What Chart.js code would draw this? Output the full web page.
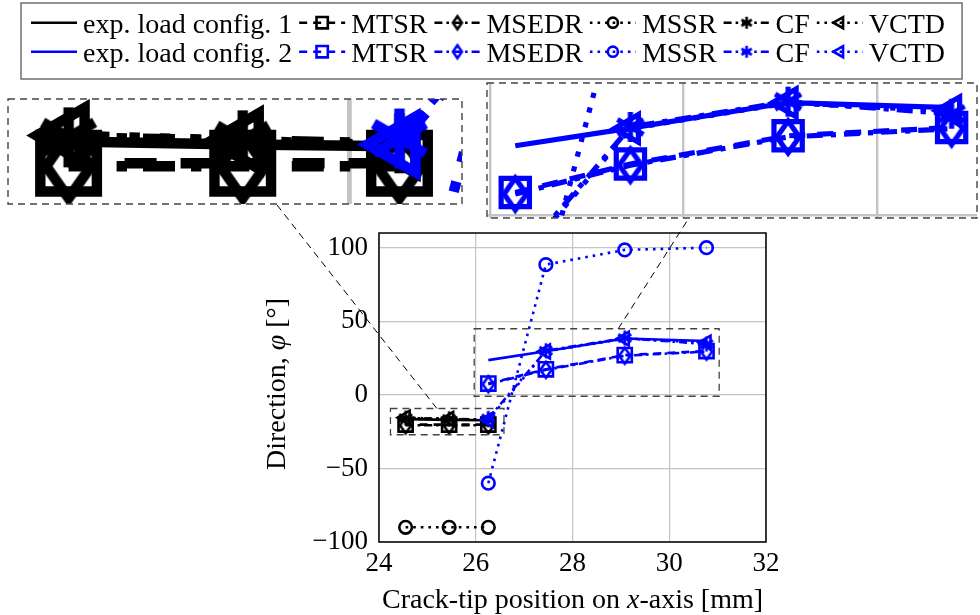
<!DOCTYPE html>
<html>
<head>
<meta charset="utf-8">
<title>Crack direction</title>
<script src="https://cdn.jsdelivr.net/npm/chart.js@4.4.1/dist/chart.umd.min.js"></script>
<style>
  html, body { margin: 0; padding: 0; background: #fff; }
  #wrap { position: relative; width: 980px; height: 615px; overflow: hidden; }
  #wrap canvas { position: absolute; left: 0; top: 0; }
</style>
</head>
<body>
<div id="wrap">
  <canvas id="main" width="980" height="615"></canvas>
</div>
<script>
// crack-tip position on x-axis [mm]
const posConfig1 = [24.55, 25.45, 26.26];
const posConfig2 = [26.26, 27.45, 29.08, 30.77];

// direction [deg], exp. load config. 1
const exp1 = [-16.5, -17.0, -17.3];
const mtsr1 = [-20.2, -20.2, -20.2];
const msedr1 = [-20.7, -20.7, -20.7];
const mssr1 = [-90, -90, -90];
const cf1 = [-15.8, -16.3, -16.8];
const vctd1 = [-15.5, -16.4, -17.2];

// direction [deg], exp. load config. 2
const exp2 = [23.6, 29.6, 38.3, 36.6];
const mtsr2 = [7.7, 17.4, 27.0, 29.8];
const msedr2 = [7.2, 17.0, 26.6, 29.4];
const mssr2 = [-60, 88.5, 98.5, 100];
const cf2 = [-16, 30, 38.6, 34.5];
const vctd2 = [-17, 29.5, 38.2, 35.5];

const methods = ["MTSR", "MSEDR", "MSSR", "CF", "VCTD"];
const xTicks = [24, 26, 28, 30, 32];
const yTicks = [-100, -50, 0, 50, 100];

const configs = [
  { name: "exp. load config. 1", color: "#000000", x: posConfig1, exp: exp1, values: [mtsr1, msedr1, mssr1, cf1, vctd1] },
  { name: "exp. load config. 2", color: "#0000ff", x: posConfig2, exp: exp2, values: [mtsr2, msedr2, mssr2, cf2, vctd2] },
];

// styling
const LW = 2.6;
const GRID = "#c4c4c4";
const FAMILY = "'Liberation Serif', 'Times New Roman', serif";
const markStyle = {
  MTSR:  { pointStyle: "rect",     radius: 10,  rotation: 0,   dash: [8, 6] },
  MSEDR: { pointStyle: "diamond",  radius: 8,   rotation: 0,   dash: [8, 4, 2.6, 4] },
  MSSR:  { pointStyle: "circle",   radius: 6.3, rotation: 0,   dash: [2.6, 5] },
  CF:    { pointStyle: "asterisk", radius: 7.5, rotation: 0,   dash: [8, 4, 2.6, 4] },
  VCTD:  { pointStyle: "triangle", radius: 8,   rotation: -90, dash: [2.6, 5] },
};

// zoom insets (spy boxes)
const spies = [
  { cx: 25.41, cy: -18.2, mag: 4, left: 8, top: 99, width: 454, height: 105 },
  { cx: 28.5, cy: 22.0, mag: 2, left: 487, top: 83, width: 490, height: 135 },
];

// pgfplots-like diamond (narrow) and six-arm asterisk as canvas point images
function markImage(kind, color, r, lw) {
  const pad = Math.ceil(lw) + 2;
  const size = 2 * Math.ceil(r + pad);
  const c = document.createElement("canvas");
  c.width = size;
  c.height = size;
  const g = c.getContext("2d");
  const m = size / 2;
  g.strokeStyle = color;
  g.lineWidth = lw;
  g.beginPath();
  if (kind === "diamond") {
    const hw = r * 0.7;
    g.moveTo(m, m - r);
    g.lineTo(m + hw, m);
    g.lineTo(m, m + r);
    g.lineTo(m - hw, m);
    g.closePath();
  } else {
    for (let a = 0; a < 3; a++) {
      const t = Math.PI / 2 + a * Math.PI / 3;
      g.moveTo(m + Math.cos(t) * r, m - Math.sin(t) * r);
      g.lineTo(m - Math.cos(t) * r, m + Math.sin(t) * r);
    }
  }
  g.stroke();
  return c;
}

const toPoints = (xs, ys) => xs.map((x, i) => ({ x, y: ys[i] }));

function makeDatasets(k, clip) {
  const sets = [];
  configs.forEach((cfg) => {
    sets.push({
      label: cfg.name,
      data: toPoints(cfg.x, cfg.exp),
      showLine: true,
      borderColor: cfg.color,
      borderWidth: LW * k,
      pointRadius: 0,
      clip,
    });
    methods.forEach((m, mi) => {
      const st = markStyle[m];
      const custom = st.pointStyle === "diamond" || st.pointStyle === "asterisk";
      sets.push({
        label: m,
        data: toPoints(cfg.x, cfg.values[mi]),
        showLine: true,
        borderColor: cfg.color,
        backgroundColor: "rgba(0,0,0,0)",
        borderWidth: LW * k,
        borderDash: st.dash.map((v) => v * k),
        pointStyle: custom ? markImage(st.pointStyle, cfg.color, st.radius * k, LW * k) : st.pointStyle,
        legendStyle: custom ? markImage(st.pointStyle, cfg.color, st.radius * 0.8, LW) : st.pointStyle,
        pointRadius: st.radius * k,
        pointRotation: st.rotation,
        pointBorderWidth: LW * k,
        pointBorderColor: cfg.color,
        pointBackgroundColor: "rgba(0,0,0,0)",
        clip,
      });
    });
  });
  // later series are drawn on top
  sets.forEach((s, i) => { s.order = sets.length - i; });
  return sets;
}

function drawRich(ctx, segs, cx, cy, angle) {
  ctx.save();
  ctx.translate(cx, cy);
  ctx.rotate(angle);
  let total = 0;
  segs.forEach((s) => { ctx.font = s.font; s.w = ctx.measureText(s.text).width; total += s.w; });
  let x = -total / 2;
  ctx.textBaseline = "alphabetic";
  ctx.textAlign = "left";
  ctx.fillStyle = "#000";
  segs.forEach((s) => { ctx.font = s.font; ctx.fillText(s.text, x, 0); x += s.w; });
  ctx.restore();
}

function spyRect(chart, s) {
  const px = chart.scales.x.getPixelForValue(s.cx);
  const py = chart.scales.y.getPixelForValue(s.cy);
  const w = s.width / s.mag, h = s.height / s.mag;
  return { x: px - w / 2, y: py - h / 2, w, h, cx: px, cy: py };
}

const frame = {
  id: "frame",
  afterDatasetsDraw(chart) {
    const { ctx, chartArea: a } = chart;
    ctx.save();
    ctx.strokeStyle = "#000";
    ctx.lineWidth = 1.5;
    ctx.strokeRect(a.left, a.top, a.right - a.left, a.bottom - a.top);
    ctx.restore();
  },
  afterDraw(chart) {
    const { ctx, chartArea: a } = chart;
    const reg = "28px " + FAMILY, ital = "italic 28px " + FAMILY;

    // spy rectangles and connectors
    spies.forEach((s) => {
      const r = spyRect(chart, s);
      ctx.save();
      ctx.strokeStyle = "#444";
      ctx.lineWidth = 1.3;
      ctx.setLineDash([7, 5]);
      ctx.strokeRect(r.x, r.y, r.w, r.h);
      const c2x = s.left + s.width / 2, c2y = s.top + s.height / 2;
      const dx = c2x - r.cx, dy = c2y - r.cy;
      const t1 = Math.min(r.w / 2 / Math.abs(dx), r.h / 2 / Math.abs(dy));
      const t2 = Math.min(s.width / 2 / Math.abs(dx), s.height / 2 / Math.abs(dy));
      ctx.strokeStyle = "#000";
      ctx.lineWidth = 1;
      ctx.beginPath();
      ctx.moveTo(r.cx + dx * t1, r.cy + dy * t1);
      ctx.lineTo(c2x - dx * t2, c2y - dy * t2);
      ctx.stroke();
      ctx.restore();
    });

    // axis titles
    drawRich(ctx, [
      { text: "Crack-tip position on ", font: reg },
      { text: "x", font: ital },
      { text: "-axis [mm]", font: reg },
    ], (a.left + a.right) / 2, 608, 0);
    drawRich(ctx, [
      { text: "Direction, ", font: reg },
      { text: "\u03C6", font: ital },
      { text: " [\u00B0]", font: reg },
    ], 285, 384, -Math.PI / 2);

    // legend: 2 rows x 6 columns
    const sets = chart.data.datasets;
    ctx.save();
    ctx.font = reg;
    const colW = [];
    for (let c = 0; c < 6; c++) {
      colW.push(Math.max(ctx.measureText(sets[c].label).width, ctx.measureText(sets[c + 6].label).width));
    }
    const boxL = 21, boxT = 3, boxH = 76, symW = 46;
    let x = boxL + 10;
    const colX = [];
    colW.forEach((w) => { colX.push(x); x += symW + 6 + w + 7; });
    const boxR = x - 7 + 17;
    ctx.fillStyle = "#fff";
    ctx.fillRect(boxL, boxT, boxR - boxL, boxH);
    ctx.strokeStyle = "#666";
    ctx.lineWidth = 1.4;
    ctx.strokeRect(boxL, boxT, boxR - boxL, boxH);
    const rowY = [22.7, 51.7];
    sets.forEach((ds, i) => {
      const row = i < 6 ? 0 : 1, col = i % 6;
      const sx = colX[col], y = rowY[row];
      ctx.save();
      ctx.strokeStyle = ds.borderColor;
      ctx.lineWidth = ds.borderWidth;
      ctx.setLineDash(ds.borderDash || []);
      ctx.beginPath();
      ctx.moveTo(sx, y);
      ctx.lineTo(sx + symW, y);
      ctx.stroke();
      ctx.restore();
      if (ds.pointRadius > 0) {
        ctx.save();
        ctx.strokeStyle = ds.pointBorderColor;
        ctx.fillStyle = "rgba(0,0,0,0)";
        ctx.lineWidth = ds.pointBorderWidth;
        Chart.helpers.drawPoint(ctx, {
          pointStyle: ds.legendStyle,
          rotation: ds.pointRotation,
          radius: ds.pointRadius * 0.8,
          borderWidth: ds.pointBorderWidth,
        }, sx + symW / 2, y);
        ctx.restore();
      }
      ctx.fillStyle = "#000";
      ctx.font = reg;
      ctx.textBaseline = "alphabetic";
      ctx.textAlign = "left";
      ctx.fillText(ds.label, sx + symW + 6, y + 10);
    });
    ctx.restore();
  },
};

const tickFont = { family: FAMILY, size: 27 };
// ticks at the given values inside the range, plus the range bounds (hidden)
const pickTicks = (vals) => (s) => {
  const inside = vals.filter((v) => v >= s.min - 1e-9 && v <= s.max + 1e-9);
  const all = [s.min, ...inside, s.max].filter((v, i, arr) => arr.indexOf(v) === i);
  s.ticks = all.map((v) => ({ value: v }));
};
const gridColor = (vals) => (c) => (c.tick && vals.includes(c.tick.value) ? GRID : "rgba(0,0,0,0)");

const main = new Chart(document.getElementById("main"), {
  type: "scatter",
  data: { datasets: makeDatasets(1, undefined) },
  options: {
    responsive: false,
    animation: false,
    events: [],
    layout: { autoPadding: false, padding: { left: 0, top: 233, right: 980 - 766, bottom: 0 } },
    plugins: { legend: { display: false }, tooltip: { enabled: false } },
    scales: {
      x: {
        type: "linear", min: 24, max: 32,
        afterBuildTicks: pickTicks(xTicks),
        afterFit: (s) => { s.height = 615 - 542; },
        ticks: { font: tickFont, color: "#000", padding: 6, maxRotation: 0, autoSkip: false },
        grid: { color: gridColor(xTicks), lineWidth: 1.2, drawTicks: false },
        border: { display: false },
      },
      y: {
        type: "linear", min: -100, max: 110,
        afterBuildTicks: pickTicks(yTicks),
        afterFit: (s) => { s.width = 379; },
        ticks: {
          font: tickFont, color: "#000", padding: 11, autoSkip: false,
          callback: (v) => (yTicks.includes(v) ? String(v).replace("-", "\u2212") : ""),
        },
        grid: { color: gridColor(yTicks), lineWidth: 1.2, drawTicks: false },
        border: { display: false },
      },
    },
  },
  plugins: [frame],
});

const insetFrame = {
  id: "insetFrame",
  beforeDraw(chart) {
    const { ctx } = chart;
    ctx.save();
    ctx.fillStyle = "#fff";
    ctx.fillRect(0, 0, chart.width, chart.height);
    ctx.restore();
  },
  afterDraw(chart) {
    const { ctx, chartArea: a } = chart;
    ctx.save();
    ctx.strokeStyle = "#444";
    ctx.lineWidth = 1.4;
    ctx.setLineDash([7, 5]);
    ctx.strokeRect(a.left, a.top, a.right - a.left, a.bottom - a.top);
    ctx.restore();
  },
};

function addInset(s) {
  const xs = main.scales.x, ys = main.scales.y;
  const pxX = xs.getPixelForValue(1) - xs.getPixelForValue(0);
  const pxY = ys.getPixelForValue(0) - ys.getPixelForValue(1);
  const hx = s.width / 2 / (s.mag * pxX);
  const hy = s.height / 2 / (s.mag * pxY);

  const cv = document.createElement("canvas");
  cv.width = s.width + 2;
  cv.height = s.height + 2;
  cv.style.left = (s.left - 1) + "px";
  cv.style.top = (s.top - 1) + "px";
  cv.style.width = (s.width + 2) + "px";
  cv.style.height = (s.height + 2) + "px";
  document.getElementById("wrap").appendChild(cv);

  const axis = (min, max, vals, horizontal) => ({
    type: "linear", min, max,
    afterBuildTicks: pickTicks(vals),
    afterFit: (sc) => { if (horizontal) sc.height = 0; else sc.width = 0; },
    ticks: { display: false },
    grid: { color: gridColor(vals), lineWidth: 1.2 * s.mag, drawTicks: false },
    border: { display: false },
  });

  return new Chart(cv, {
    type: "scatter",
    data: { datasets: makeDatasets(s.mag, 0) },
    options: {
      responsive: false,
      animation: false,
      events: [],
      layout: { autoPadding: false, padding: 1 },
      plugins: { legend: { display: false }, tooltip: { enabled: false } },
      scales: {
        x: axis(s.cx - hx, s.cx + hx, xTicks, true),
        y: axis(s.cy - hy, s.cy + hy, yTicks, false),
      },
    },
    plugins: [insetFrame],
  });
}

spies.forEach(addInset);
</script>
</body>
</html>
